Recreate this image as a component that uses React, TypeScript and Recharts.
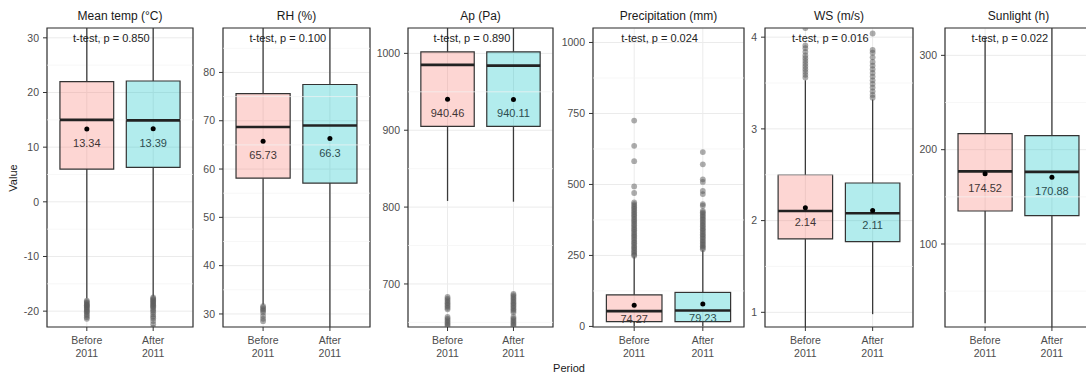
import React from 'react';
import {
  ComposedChart,
  XAxis,
  YAxis,
  CartesianGrid,
  ReferenceArea,
  ReferenceLine,
  Scatter,
} from 'recharts';

// ─── Data ───────────────────────────────────────────────────────────
const PANEL_TITLES = ['Mean temp (°C)', 'RH (%)', 'Ap (Pa)', 'Precipitation (mm)', 'WS (m/s)', 'Sunlight (h)'];
const P_VALUES = ['0.850', '0.100', '0.890', '0.024', '0.016', '0.022'];
const PERIODS = [['Before', '2011'], ['After', '2011']];

// per panel: [before, after]
const Q1 = [[6.0, 6.3], [58.1, 57.1], [905, 905], [17, 17], [1.8, 1.77], [135, 130]];
const MEDIAN = [[15.0, 14.9], [68.7, 69.0], [985, 984], [54, 56], [2.105, 2.08], [177, 176.5]];
const Q3 = [[22.0, 22.1], [75.6, 77.5], [1002, 1002], [111, 120], [2.5, 2.41], [217, 215]];
const WHISKER_LOW = [[-17.7, -17.3], [31.9, 25], [808, 807], [0, 0], [0.7, 0.98], [16, 10]];
const WHISKER_HIGH = [[33, 33], [92, 92], [1040, 1040], [246, 268], [3.53, 3.32], [319, 335]];
const MEANS = [[13.34, 13.39], [65.73, 66.3], [940.46, 940.11], [74.27, 79.23], [2.14, 2.11], [174.52, 170.88]];

const OUTLIERS_BEFORE = [
  [-18.1, -18.3, -18.5, -18.7, -18.9, -19.0, -19.2, -19.4, -19.6, -19.8, -20.0, -20.2, -20.5, -20.8, -21.1, -21.4],
  [31.6, 31.3, 31.0, 30.7, 30.3, 29.6, 29.0, 28.5],
  [683, 681, 679, 677, 675, 673, 671, 669, 667, 657, 655, 653, 651, 649, 647, 645],
  [725, 636, 582, 493, 470, 437, 431, 425, 419, 414, 408, 402, 396, 391, 385, 379, 373, 368, 362, 356,
    350, 344, 339, 333, 327, 321, 316, 310, 304, 298, 293, 287, 281, 276, 270, 264, 259, 253, 249],
  [4.1, 3.91, 3.88, 3.84, 3.8, 3.77, 3.74, 3.71, 3.68, 3.65, 3.62, 3.59, 3.56],
  [],
];
const OUTLIERS_AFTER = [
  [-17.5, -17.7, -17.9, -18.1, -18.3, -18.5, -18.7, -18.9, -19.1, -19.3, -19.6, -19.9, -20.2, -20.6, -21.0,
    -21.3, -21.8, -22.4, -23.0],
  [],
  [687, 685, 683, 681, 679, 677, 675, 673, 671, 669, 667, 665, 663, 657, 655, 653, 651, 649, 647, 645],
  [614, 571, 518, 509, 477, 466, 431, 425, 407, 402, 397, 391, 386, 380, 375, 369, 364, 358, 353, 347,
    342, 336, 331, 325, 320, 314, 309, 303, 298, 292, 287, 282, 277, 272],
  [4.04, 3.86, 3.83, 3.78, 3.73, 3.69, 3.65, 3.61, 3.57, 3.53, 3.49, 3.45, 3.41, 3.37, 3.34],
  [],
];

const Y_TICKS = [
  [-20, -10, 0, 10, 20, 30],
  [30, 40, 50, 60, 70, 80],
  [700, 800, 900, 1000],
  [0, 250, 500, 750, 1000],
  [1, 2, 3, 4],
  [100, 200, 300],
];
const Y_MINOR = [
  [-15, -5, 5, 15, 25],
  [35, 45, 55, 65, 75, 85],
  [650, 750, 850, 950],
  [125, 375, 625, 875],
  [1.5, 2.5, 3.5],
  [50, 150, 250],
];
const Y_RANGE = [[-22.9, 31.8], [27.3, 89.2], [644, 1033], [-2, 1051], [0.84, 4.1], [12, 329]];

// ─── Layout ──────────────────────────────────────────────────────────
const WIDTH = 1086;
const HEIGHT = 376;
const PLOT_TOP = 28;
const PLOT_BOTTOM = 327;
const AXIS_W = 40;
const PLOT_LEFT = [47, 223, 408, 593, 765, 945];
const PLOT_WIDTH = [146, 147, 145, 151, 148, 147];
const X_RANGE: [number, number] = [0.4, 2.6];
const HALF_BOX = 0.405;
const TEST_X = 1.37;

const FILLS = ['#F8766D', '#00BFC4'];
const LABEL_COLORS = ['#3f3535', '#2d4d4f'];
const FONT = '"Liberation Sans", Arial, Helvetica, sans-serif';

function PeriodTick({ x, y, payload }: any) {
  const lines = PERIODS[Math.round(payload.value) - 1] ?? ['', ''];
  return (
    <text x={x} y={y} textAnchor="middle" fill="#4d4d4d" fontSize={10.5} fontFamily={FONT}>
      <tspan x={x} dy={11}>{lines[0]}</tspan>
      <tspan x={x} dy={12.5}>{lines[1]}</tspan>
    </text>
  );
}

function Panel({ i }: { i: number }) {
  const outliers = [
    ...OUTLIERS_BEFORE[i].map((v) => ({ x: 1, y: v })),
    ...OUTLIERS_AFTER[i].map((v) => ({ x: 2, y: v })),
  ];
  const means = MEANS[i].map((m, g) => ({ x: g + 1, y: m, g }));

  return (
    <div style={{ position: 'absolute', left: PLOT_LEFT[i] - AXIS_W, top: 0 }}>
      <ComposedChart
        width={AXIS_W + PLOT_WIDTH[i] + 3}
        height={HEIGHT}
        margin={{ top: PLOT_TOP, right: 3, bottom: 0, left: 0 }}
      >
        <CartesianGrid stroke="#ebebeb" strokeWidth={1} />
        {Y_MINOR[i].map((v) => (
          <ReferenceLine key={`m${v}`} y={v} stroke="#f3f3f3" strokeWidth={0.7} ifOverflow="hidden" />
        ))}
        <XAxis
          dataKey="x"
          type="number"
          domain={X_RANGE}
          allowDataOverflow
          ticks={[1, 2]}
          interval={0}
          height={HEIGHT - PLOT_BOTTOM}
          axisLine={false}
          tickLine={{ stroke: '#333', strokeWidth: 1 }}
          tickSize={4}
          tick={<PeriodTick />}
        />
        <YAxis
          dataKey="y"
          type="number"
          domain={Y_RANGE[i]}
          allowDataOverflow
          ticks={Y_TICKS[i]}
          interval={0}
          width={AXIS_W}
          axisLine={false}
          tickLine={{ stroke: '#333', strokeWidth: 1 }}
          tickSize={4}
          tickMargin={4}
          tick={{ fill: '#4d4d4d', fontSize: 10.5, fontFamily: FONT }}
        />
        {[0, 1].map((g) => (
          <React.Fragment key={`w${g}`}>
            <ReferenceLine
              segment={[{ x: g + 1, y: Q3[i][g] }, { x: g + 1, y: WHISKER_HIGH[i][g] }]}
              stroke="#3a3a3a"
              strokeWidth={1.3}
              ifOverflow="hidden"
            />
            <ReferenceLine
              segment={[{ x: g + 1, y: WHISKER_LOW[i][g] }, { x: g + 1, y: Q1[i][g] }]}
              stroke="#3a3a3a"
              strokeWidth={1.3}
              ifOverflow="hidden"
            />
          </React.Fragment>
        ))}
        {[0, 1].map((g) => (
          <ReferenceArea
            key={`b${g}`}
            x1={g + 1 - HALF_BOX}
            x2={g + 1 + HALF_BOX}
            y1={Q1[i][g]}
            y2={Q3[i][g]}
            fill={FILLS[g]}
            fillOpacity={0.3}
            stroke="#333"
            strokeWidth={1.2}
            strokeOpacity={1}
            ifOverflow="hidden"
          />
        ))}
        {[0, 1].map((g) => (
          <ReferenceLine
            key={`md${g}`}
            segment={[{ x: g + 1 - HALF_BOX, y: MEDIAN[i][g] }, { x: g + 1 + HALF_BOX, y: MEDIAN[i][g] }]}
            stroke="#222"
            strokeWidth={2.6}
            ifOverflow="hidden"
          />
        ))}
        <Scatter
          data={outliers}
          dataKey="y"
          isAnimationActive={false}
          shape={(p: any) => <circle cx={p.cx} cy={p.cy} r={2.9} fill="#5a5a5a" fillOpacity={0.5} />}
        />
        <Scatter
          data={means}
          dataKey="y"
          isAnimationActive={false}
          shape={(p: any) => (
            <g>
              <circle cx={p.cx} cy={p.cy} r={2.5} fill="#000" />
              <text
                x={p.cx}
                y={p.cy + 18}
                textAnchor="middle"
                fontSize={11}
                fontFamily={FONT}
                fill={LABEL_COLORS[p.payload.g]}
              >
                {String(p.payload.y)}
              </text>
            </g>
          )}
        />
        <ReferenceArea
          x1={X_RANGE[0]}
          x2={X_RANGE[1]}
          y1={Y_RANGE[i][0]}
          y2={Y_RANGE[i][1]}
          fill="none"
          stroke="#333"
          strokeWidth={1.2}
          strokeOpacity={1}
          ifOverflow="visible"
        />
      </ComposedChart>
    </div>
  );
}

export default function App() {
  return (
    <div
      style={{
        position: 'absolute',
        left: 0,
        top: 0,
        width: WIDTH,
        height: HEIGHT,
        overflow: 'hidden',
        background: '#fff',
        fontFamily: FONT,
      }}
    >
      {PANEL_TITLES.map((_, i) => (
        <Panel key={i} i={i} />
      ))}
      <svg
        width={WIDTH}
        height={HEIGHT}
        style={{ position: 'absolute', left: 0, top: 0, pointerEvents: 'none' }}
      >
        {PANEL_TITLES.map((t, i) => (
          <text
            key={`t${i}`}
            x={PLOT_LEFT[i] + PLOT_WIDTH[i] / 2}
            y={19.5}
            textAnchor="middle"
            fontSize={12}
            fontFamily={FONT}
            fill="#1a1a1a"
          >
            {t}
          </text>
        ))}
        {P_VALUES.map((p, i) => (
          <text
            key={`p${i}`}
            x={PLOT_LEFT[i] + ((TEST_X - X_RANGE[0]) / (X_RANGE[1] - X_RANGE[0])) * PLOT_WIDTH[i]}
            y={42}
            textAnchor="middle"
            fontSize={11}
            fontFamily={FONT}
            fill="#222"
          >
            {`t-test, p = ${p}`}
          </text>
        ))}
        <text
          x={0}
          y={0}
          transform="translate(17 178) rotate(-90)"
          textAnchor="middle"
          fontSize={11}
          fontFamily={FONT}
          fill="#1a1a1a"
        >
          Value
        </text>
        <text x={569} y={372} textAnchor="middle" fontSize={11} fontFamily={FONT} fill="#1a1a1a">
          Period
        </text>
      </svg>
    </div>
  );
}
